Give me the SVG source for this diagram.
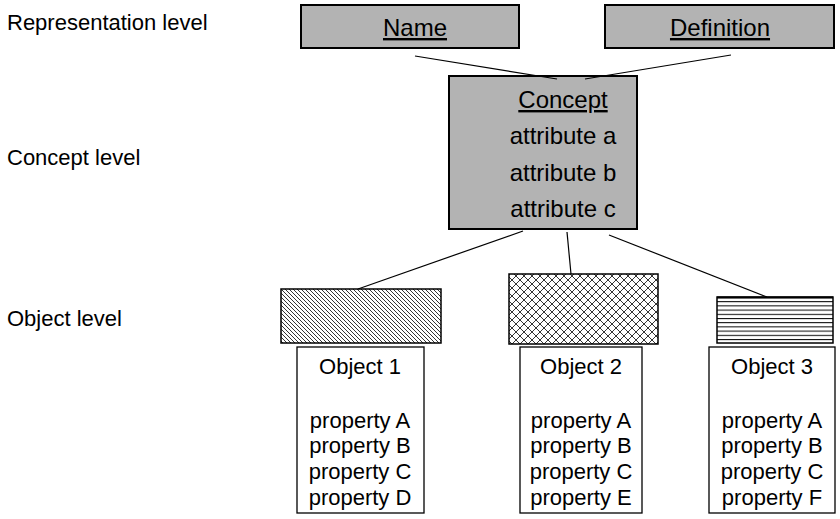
<svg xmlns="http://www.w3.org/2000/svg" width="840" height="519" viewBox="0 0 840 519">
<style>
text{font-family:"Liberation Sans",Arial,sans-serif;fill:#000}
.lvl{font-size:22px}
.big{font-size:24px;text-anchor:middle}
.obj{font-size:22px;text-anchor:middle}
.gray{fill:#b3b3b3;stroke:#000;stroke-width:2}
.ob{fill:#fff;stroke:#000;stroke-width:1.3}
.conn line{stroke:#000;stroke-width:1.2}
.u{text-decoration:underline}
</style>
<defs>
<pattern id="diag" patternUnits="userSpaceOnUse" width="4" height="4">
<rect width="4" height="4" fill="#fff"/>
<path d="M-1,-1 L5,5 M-1,3 L1,5 M3,-1 L5,1" stroke="#000" stroke-width="0.8"/>
</pattern>
<pattern id="cross" patternUnits="userSpaceOnUse" width="8" height="8">
<rect width="8" height="8" fill="#fff"/>
<path d="M0,0 L8,8 M8,0 L0,8" stroke="#000" stroke-width="0.8"/>
</pattern>
<pattern id="horiz" patternUnits="userSpaceOnUse" x="0" y="297" width="8" height="4.2">
<rect width="8" height="4.2" fill="#fff"/>
<line x1="0" y1="0.5" x2="8" y2="0.5" stroke="#000" stroke-width="1"/>
</pattern>
</defs>
<g id="labels">
<text class="lvl" x="7" y="30">Representation level</text>
<text class="lvl" x="7" y="165">Concept level</text>
<text class="lvl" x="7" y="326">Object level</text>
</g>
<g id="name">
<rect class="gray" x="301" y="5" width="218" height="43"/>
<text class="big u" x="415" y="36">Name</text>
</g>
<g id="definition">
<rect class="gray" x="605" y="5" width="229" height="43"/>
<text class="big u" x="720" y="36">Definition</text>
</g>
<g id="concept">
<rect class="gray" x="449" y="76" width="188" height="153"/>
<text class="big u" x="563" y="108">Concept</text>
<text class="big" x="563" y="144">attribute a</text>
<text class="big" x="563" y="181">attribute b</text>
<text class="big" x="563" y="217">attribute c</text>
</g>
<g id="object1">
<rect x="281" y="289" width="160" height="54" fill="url(#diag)" stroke="#000" stroke-width="1.5"/>
<rect class="ob" x="297" y="347" width="127" height="166"/>
<text class="obj" x="360" y="374">Object 1</text>
<text class="obj" x="360" y="428">property A</text>
<text class="obj" x="360" y="453">property B</text>
<text class="obj" x="360" y="479">property C</text>
<text class="obj" x="360" y="505">property D</text>
</g>
<g id="object2">
<rect x="509" y="274" width="149" height="70" fill="url(#cross)" stroke="#000" stroke-width="1.5"/>
<rect class="ob" x="520" y="347" width="122" height="166"/>
<text class="obj" x="581" y="374">Object 2</text>
<text class="obj" x="581" y="428">property A</text>
<text class="obj" x="581" y="453">property B</text>
<text class="obj" x="581" y="479">property C</text>
<text class="obj" x="581" y="505">property E</text>
</g>
<g id="object3">
<rect x="717" y="297" width="116" height="46" fill="url(#horiz)" stroke="#000" stroke-width="1.5"/>
<line x1="717" y1="297.5" x2="833" y2="297.5" stroke="#000" stroke-width="2"/>
<rect class="ob" x="709" y="347" width="126" height="166"/>
<text class="obj" x="772" y="374">Object 3</text>
<text class="obj" x="772" y="428">property A</text>
<text class="obj" x="772" y="453">property B</text>
<text class="obj" x="772" y="479">property C</text>
<text class="obj" x="772" y="505">property F</text>
</g>
<g class="conn" id="connectors">
<line x1="415" y1="56" x2="557" y2="79"/>
<line x1="731" y1="55" x2="585" y2="79"/>
<line x1="523" y1="231" x2="358" y2="289"/>
<line x1="567" y1="232" x2="571" y2="274"/>
<line x1="609" y1="235" x2="767" y2="297"/>
</g>
</svg>
